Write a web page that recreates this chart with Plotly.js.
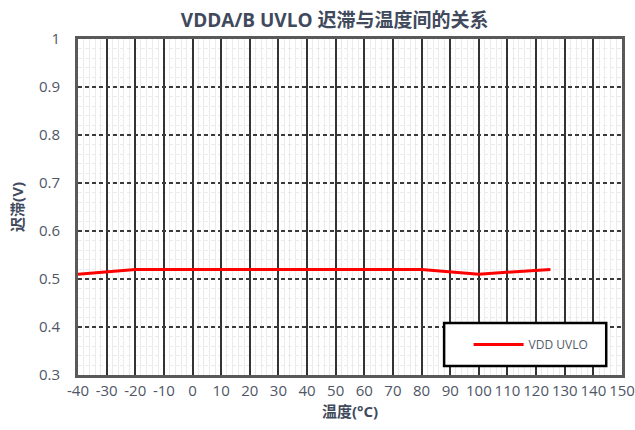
<!DOCTYPE html>
<html>
<head>
<meta charset="utf-8">
<script src="https://cdn.plot.ly/plotly-3.0.1.min.js"></script>
<style>
  html, body { margin: 0; padding: 0; background: #fff; }
  #chart { width: 635px; height: 430px; }
</style>
</head>
<body>
<div id="chart"></div>
<script>
// 温度 (°C) 与 迟滞 (V)
const temps = [-40, -20, 0, 25, 50, 80, 100, 125];
const hysteresis = [0.51, 0.52, 0.52, 0.52, 0.52, 0.52, 0.51, 0.52];
const seriesName = 'VDD UVLO';
const xTicks = [-40, -30, -20, -10, 0, 10, 20, 30, 40, 50, 60, 70, 80, 90, 100, 110, 120, 130, 140, 150];
const yTicks = [0.3, 0.4, 0.5, 0.6, 0.7, 0.8, 0.9, 1];

const font = '"Open Sans", "Noto Sans CJK SC", sans-serif';
const textColor = '#4f5666';
const titleColor = '#414a5c';

const data = [
  {
    x: temps,
    y: hysteresis,
    type: 'scatter',
    mode: 'lines',
    name: seriesName,
    line: { color: '#ff0000', width: 3 }
  }
];

const layout = {
  width: 635,
  height: 430,
  margin: { l: 78, r: 13, t: 39, b: 55 },
  paper_bgcolor: '#ffffff',
  plot_bgcolor: '#ffffff',
  font: { family: font, color: textColor, size: 14 },
  title: {
    text: '<b>VDDA/B UVLO 迟滞与温度间的关系</b>',
    x: 0.527,
    xanchor: 'center',
    y: 0.953,
    yanchor: 'middle',
    font: { size: 19, color: titleColor }
  },
  xaxis: {
    range: [-40, 150],
    tickvals: xTicks,
    ticktext: xTicks.map(String),
    ticks: '',
    showgrid: true,
    gridcolor: '#333333',
    gridwidth: 2,
    showline: true,
    linecolor: '#595959',
    linewidth: 3,
    mirror: true,
    zeroline: false,
    tickfont: { size: 15, color: textColor },
    minor: { dtick: 2, showgrid: true, gridcolor: '#ebebeb', gridwidth: 1 },
    title: { text: '<b>温度(°C)</b>', font: { size: 15, color: titleColor }, standoff: 8 }
  },
  yaxis: {
    range: [0.3, 1],
    tickvals: yTicks,
    ticktext: yTicks.map(String),
    ticks: '',
    ticklabelstandoff: 12,
    showgrid: true,
    gridcolor: '#3a3a3a',
    gridwidth: 1.5,
    griddash: '4px,3px',
    showline: true,
    linecolor: '#595959',
    linewidth: 3,
    mirror: true,
    zeroline: false,
    tickfont: { size: 15, color: textColor },
    minor: { dtick: 0.02, showgrid: true, gridcolor: '#ebebeb', gridwidth: 1 },
    title: { text: '<b>迟滞(V)</b>', font: { size: 15, color: titleColor }, standoff: 12 }
  },
  shapes: [
    {
      type: 'rect',
      xref: 'paper',
      yref: 'paper',
      x0: 0.673,
      x1: 0.971,
      y0: 0.027,
      y1: 0.155,
      layer: 'above',
      fillcolor: '#ffffff',
      line: { color: '#000000', width: 2.5 }
    }
  ],
  showlegend: true,
  legend: {
    x: 0.718,
    y: 0.091,
    xanchor: 'left',
    yanchor: 'middle',
    bgcolor: 'rgba(0,0,0,0)',
    borderwidth: 0,
    font: { size: 12, color: '#555b68' },
    itemwidth: 50
  }
};

Plotly.newPlot('chart', data, layout, { displayModeBar: false, responsive: false });
</script>
</body>
</html>
